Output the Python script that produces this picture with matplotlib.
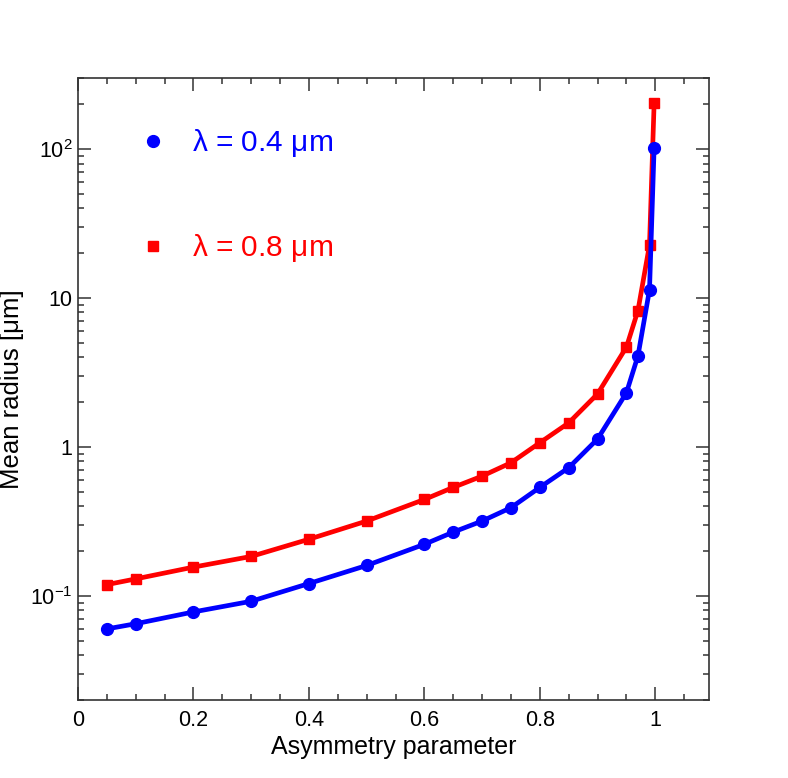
import math
import matplotlib
matplotlib.use("Agg")
import matplotlib.pyplot as plt
from matplotlib.lines import Line2D
from matplotlib.ticker import FixedLocator, LogLocator, MultipleLocator, NullFormatter, FuncFormatter

plt.rcParams['font.family'] = ['Liberation Sans', 'DejaVu Sans']
plt.rcParams['mathtext.fontset'] = 'custom'
plt.rcParams['mathtext.rm'] = 'Liberation Sans'
plt.rcParams['mathtext.it'] = 'Liberation Sans'

# asymmetry parameter g
g = [0.05, 0.1, 0.2, 0.3, 0.4, 0.5, 0.6, 0.65, 0.7, 0.75, 0.8, 0.85, 0.9, 0.95, 0.97, 0.99, 0.998]
# mean radius [um]
r_04 = [0.060, 0.065, 0.078, 0.092, 0.121, 0.160, 0.222, 0.268, 0.318, 0.391, 0.535, 0.725,
        1.13, 2.31, 4.09, 11.35, 102]
r_08 = [0.119, 0.130, 0.156, 0.184, 0.240, 0.318, 0.444, 0.535, 0.637, 0.783, 1.067, 1.45,
        2.27, 4.68, 8.24, 22.7, 203]
labels = [r"$\lambda$ = 0.4 $\mu$m", r"$\lambda$ = 0.8 $\mu$m"]

fig = plt.figure(figsize=(7.88, 7.78), dpi=100)
ax = fig.add_axes([0.099, 0.1003, 0.8007, 0.7994])

ax.plot(g, r_04, color='#0000ff', lw=3.4, marker='o', ms=8.5, zorder=3)
ax.plot(g, r_08, color='#ff0000', lw=3.4, marker='s', ms=7.8, zorder=2)

ax.set_yscale('log')
ax.set_xlim(0, 1.093)
ax.set_ylim(0.02, 300)

ax.xaxis.set_major_locator(MultipleLocator(0.2))
ax.xaxis.set_minor_locator(MultipleLocator(0.05))
ax.xaxis.set_major_formatter(FuncFormatter(lambda v, p: "0" if abs(v) < 1e-9 else ("1" if abs(v - 1) < 1e-9 else f"{v:.1f}")))

def yfmt(v, p):
    if abs(v - 1) < 1e-9:
        return "1"
    if abs(v - 10) < 1e-6:
        return "10"
    e = int(round(math.log10(v)))
    return r"$\mathregular{10^{%d}}$" % e

ax.yaxis.set_major_locator(FixedLocator([0.1, 1, 10, 100]))
ax.yaxis.set_minor_locator(LogLocator(base=10, subs=range(2, 10)))
ax.yaxis.set_major_formatter(FuncFormatter(yfmt))
ax.yaxis.set_minor_formatter(NullFormatter())

ax.tick_params(which='both', direction='in', top=True, right=True, width=1.1, color='#333333',
               labelsize=15.5)
ax.tick_params(which='major', length=9.2)
ax.tick_params(which='minor', length=4)
ax.tick_params(axis='x', which='major', pad=7)
ax.tick_params(axis='y', which='major', pad=4)
for s in ax.spines.values():
    s.set_linewidth(1.2)
    s.set_color('#333333')

ax.set_xlabel("Asymmetry parameter", fontsize=18, labelpad=3)
ax.set_ylabel("Mean radius [\u03bcm]", fontsize=18.5, labelpad=4)

handles = [Line2D([], [], color='#0000ff', marker='o', ls='none', ms=8.5),
           Line2D([], [], color='#ff0000', marker='s', ls='none', ms=7.8)]
leg = ax.legend(handles, labels, loc='upper left', bbox_to_anchor=(0.052, 0.964), frameon=False,
                fontsize=21.5, labelspacing=2.44, handlelength=1.0, handletextpad=0.83,
                labelcolor=['#0000ff', '#ff0000'])

fig.savefig("out.png", dpi=100)
